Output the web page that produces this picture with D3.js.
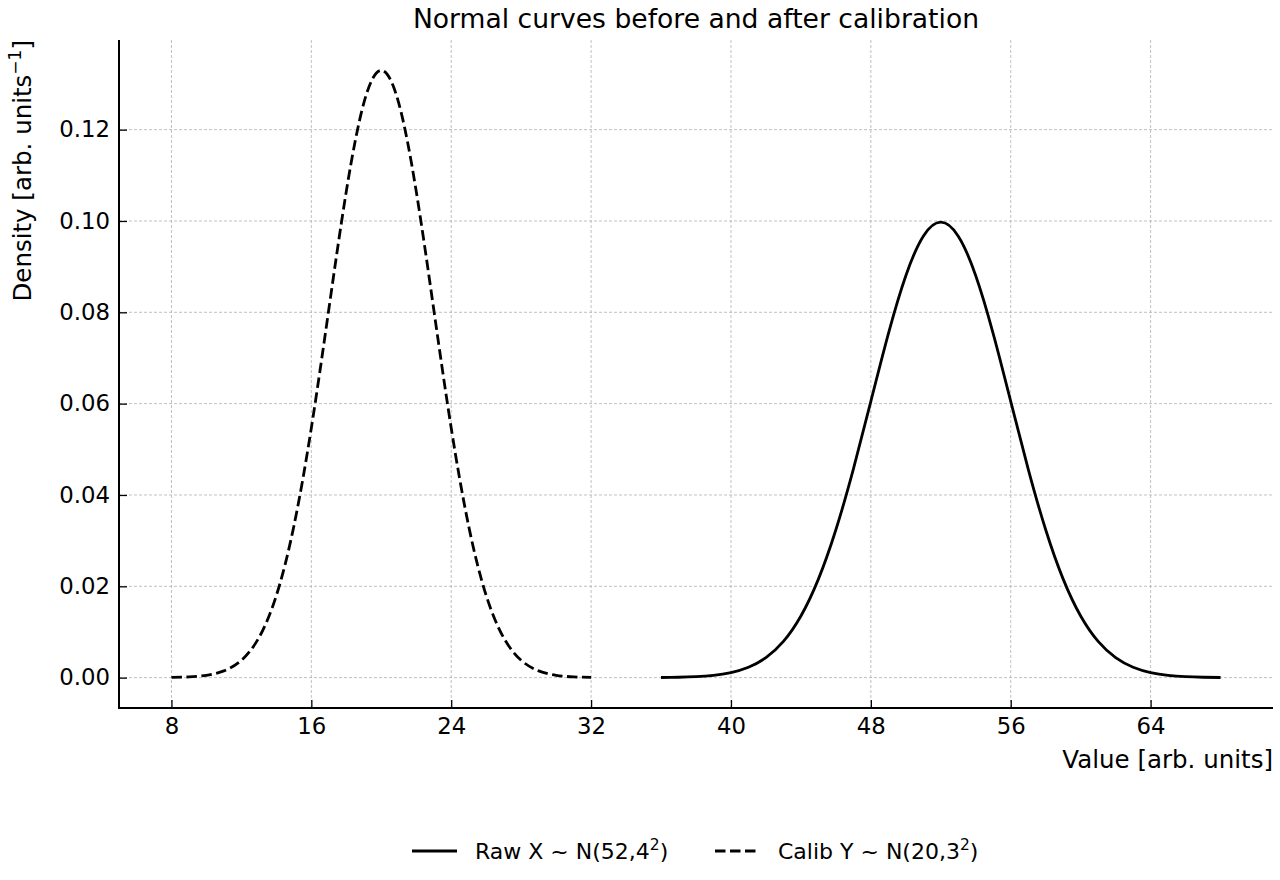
<!DOCTYPE html>
<html>
<head>
<meta charset="utf-8">
<script src="https://cdn.jsdelivr.net/npm/d3@7"></script>
<style>
  body { margin: 0; background: #fff; }
  svg { font-family: "DejaVu Sans", sans-serif; }
</style>
</head>
<body>
<svg id="chart" width="1280" height="880"></svg>
<script>
// values (density vs value)
const rawX = [36,37,38,39,40,41,42,43,44,45,46,47,48,49,50,51,52,53,54,55,56,57,58,59,60,61,62,63,64,65,66,67,68];
const rawDensity = [0.000033,0.000088,0.000218,0.000507,0.001108,0.002273,0.004382,0.007935,0.013498,0.021569,0.032379,0.045662,0.060493,0.075284,0.088016,0.096667,0.099736,
  0.096667,0.088016,0.075284,0.060493,0.045662,0.032379,0.021569,0.013498,0.007935,0.004382,0.002273,0.001108,0.000507,0.000218,0.000088,0.000033];
const calibX = [8,9,10,11,12,13,14,15,16,17,18,19,20,21,22,23,24,25,26,27,28,29,30,31,32];
const calibDensity = [0.000045,0.000160,0.000514,0.001477,0.003799,0.008741,0.017997,0.033159,0.054670,0.080657,0.106483,0.125794,0.132981,
  0.125794,0.106483,0.080657,0.054670,0.033159,0.017997,0.008741,0.003799,0.001477,0.000514,0.000160,0.000045];
const xTicks = [8,16,24,32,40,48,56,64];
const yTicks = [0,0.02,0.04,0.06,0.08,0.10,0.12];

const svg = d3.select("#chart");
const mLeft = 119, mRight = 1273, mTop = 40, mBottom = 708;

let x = d3.scaleLinear().domain([5, 71]).range([mLeft, mRight]);
let y = d3.scaleLinear().domain([-0.006649, 0.13963]).range([mBottom, mTop]);

// grid
let grid = svg.append("g").attr("stroke", "#b0b0b0").attr("stroke-width", 0.8).attr("stroke-dasharray", "3,2");
grid.selectAll(".gx").data(xTicks).join("line")
  .attr("x1", d => x(d)).attr("x2", d => x(d)).attr("y1", mTop).attr("y2", mBottom);
grid.selectAll(".gy").data(yTicks).join("line")
  .attr("x1", mLeft).attr("x2", mRight).attr("y1", d => y(d)).attr("y2", d => y(d));

// axes with inward ticks
const xAxis = svg.append("g").attr("transform", `translate(0,${mBottom})`)
  .call(d3.axisBottom(x).tickValues(xTicks).tickSize(-8).tickFormat(d3.format("d")));
const yAxis = svg.append("g").attr("transform", `translate(${mLeft},0)`)
  .call(d3.axisLeft(y).tickValues(yTicks).tickSize(-8).tickFormat(d3.format(".2f")));
[xAxis, yAxis].forEach(a => {
  a.attr("font-size", null).attr("font-family", null);
  a.select(".domain").remove();
  a.selectAll(".tick line").attr("stroke", "#000").attr("stroke-width", 1.3);
  a.selectAll(".tick text").attr("fill", "#000").style("font-size", "22.8px");
});
xAxis.selectAll(".tick text").attr("dy", "0.71em").attr("y", 10);
yAxis.selectAll(".tick text").attr("x", -9);

// spines
svg.append("line").attr("x1", mLeft).attr("x2", mLeft).attr("y1", mTop).attr("y2", mBottom + 1)
  .attr("stroke", "#000").attr("stroke-width", 2);
svg.append("line").attr("x1", mLeft - 1).attr("x2", mRight).attr("y1", mBottom).attr("y2", mBottom)
  .attr("stroke", "#000").attr("stroke-width", 2);

// curves
let line = d3.line().x(d => x(d[0])).y(d => y(d[1])).curve(d3.curveNatural);
svg.append("path").datum(rawX.map((v, i) => [v, rawDensity[i]]))
  .attr("d", line).attr("fill", "none").attr("stroke", "#000").attr("stroke-width", 2.8);
svg.append("path").datum(calibX.map((v, i) => [v, calibDensity[i]]))
  .attr("d", line).attr("fill", "none").attr("stroke", "#000").attr("stroke-width", 2.8)
  .attr("stroke-dasharray", "10.5,4.5");

// title and labels
svg.append("text").attr("x", (mLeft + mRight) / 2).attr("y", 28).attr("text-anchor", "middle")
  .style("font-size", "26.6px").text("Normal curves before and after calibration");
svg.append("text").attr("x", mRight).attr("y", 768).attr("text-anchor", "end")
  .style("font-size", "24.5px").text("Value [arb. units]");
let yl = svg.append("text").attr("transform", "translate(31,40) rotate(-90)").attr("text-anchor", "end")
  .style("font-size", "24.5px");
yl.append("tspan").text("Density [arb. units");
yl.append("tspan").attr("dy", -10).style("font-size", "17px").text("\u22121");
yl.append("tspan").attr("dy", 10).text("]");

// legend
const legend = [
  {name: "Raw X ~ N(52,4", sup: "2", tail: ")", dash: null, x: 412},
  {name: "Calib Y ~ N(20,3", sup: "2", tail: ")", dash: "10.5,4.5", x: 715}
];
legend.forEach(l => {
  svg.append("line").attr("x1", l.x).attr("x2", l.x + 45).attr("y1", 851).attr("y2", 851)
    .attr("stroke", "#000").attr("stroke-width", 2.8).attr("stroke-dasharray", l.dash);
  let t = svg.append("text").attr("x", l.x + 63).attr("y", 859).style("font-size", "22px");
  t.append("tspan").text(l.name);
  t.append("tspan").attr("dy", -9).style("font-size", "15.5px").text(l.sup);
  t.append("tspan").attr("dy", 9).text(l.tail);
});
</script>
</body>
</html>
